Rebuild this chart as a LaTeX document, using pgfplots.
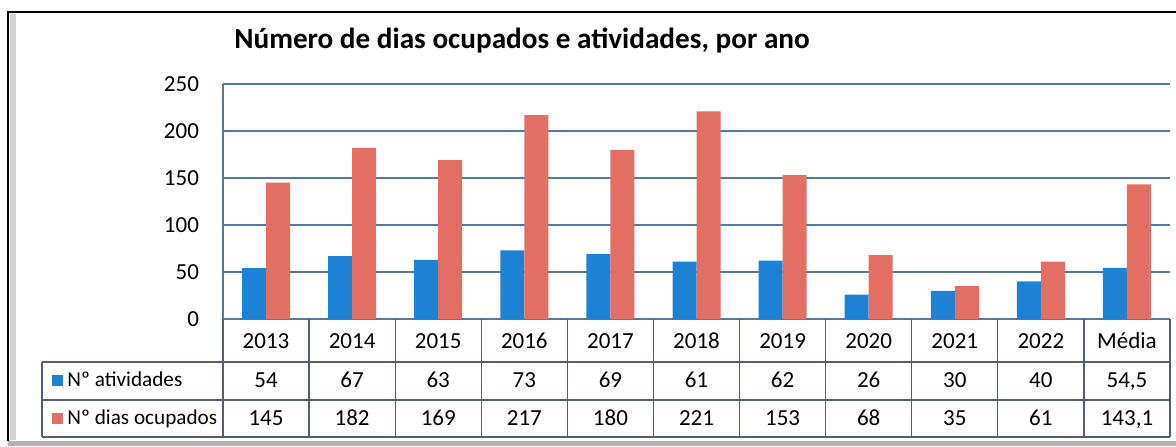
\documentclass[border=0pt]{standalone}
\usepackage{fontspec}
\setmainfont{Carlito}
\usepackage{pgfplots}
\usepackage{pgfplotstable}
\pgfplotsset{compat=1.18}
\definecolor{cblue}{RGB}{30,130,212}
\definecolor{cred}{RGB}{226,110,100}
\definecolor{gridc}{RGB}{85,120,160}
\definecolor{tabc}{RGB}{80,95,120}
\pgfplotstableread{
x act dias
0 54 145
1 67 182
2 63 169
3 73 217
4 69 180
5 61 221
6 62 153
7 26 68
8 30 35
9 40 61
10 54.5 143.1
}\data
\begin{document}
\begin{tikzpicture}
\useasboundingbox (0,0) rectangle (588pt,223pt);
\begin{axis}[at={(111.5pt,63.5pt)}, anchor=south west, scale only axis,
  width=473.5pt, height=117.5pt,
  xmin=-0.5, xmax=10.5, ymin=0, ymax=250, ytick={0,50,...,250},
  ymajorgrids, grid style={gridc, line width=0.6pt},
  axis x line*=bottom, axis y line*=left,
  axis line style={gridc, line width=0.6pt, -},
  xtick=\empty, major tick length=0pt,
  ybar=0pt, bar width=12pt,
  yticklabel style={font=\fontsize{11.5}{13}\selectfont, xshift=-8.5pt},
  /pgf/number format/assume math mode=true, clip=false]
\addplot[fill=cblue, draw=none] table[x=x,y=act]{\data};
\addplot[fill=cred, draw=none] table[x=x,y=dias]{\data};
\end{axis}
\node[anchor=base, font=\fontsize{14.6}{16}\selectfont\bfseries] at (261pt,199pt) {Número de dias ocupados e atividades, por ano};
\begin{scope}[x=0.5pt,y=-0.5pt,yshift=223pt]
  % frame
  \fill[gray!35] (10,14) rectangle (16,440);
  \fill[gray!60] (8,441) rectangle (1176,446);
  \draw[black, line width=1.4pt] (8,441) -- (8,12) -- (1176,12);
  % table
  \draw[tabc, line width=0.6pt] (42,362) -- (1170,362);
  \draw[tabc, line width=0.6pt] (42,400) -- (1170,400);
  \draw[tabc, line width=0.6pt] (42,437) -- (1170,437);
  \draw[tabc, line width=0.6pt] (42,362) -- (42,437);
  \foreach \i in {0,...,11} {
    \draw[tabc, line width=0.6pt] ({223+86.09*\i},319) -- ({223+86.09*\i},437);
  }
  \foreach \t [count=\i from 0] in {2013,2014,2015,2016,2017,2018,2019,2020,2021,2022,Média} {
    \node[anchor=base, font=\fontsize{11.5}{13}\selectfont] at ({223+86.09*\i+43.05},348) {\t};
  }
  \foreach \t [count=\i from 0] in {54,67,63,73,69,61,62,26,30,40,{54,5}} {
    \node[anchor=base, font=\fontsize{11.5}{13}\selectfont] at ({223+86.09*\i+43.05},387) {\t};
  }
  \foreach \t [count=\i from 0] in {145,182,169,217,180,221,153,68,35,61,{143,1}} {
    \node[anchor=base, font=\fontsize{11.5}{13}\selectfont] at ({223+86.09*\i+43.05},425) {\t};
  }
  \fill[cblue] (52,375) rectangle (63,386);
  \fill[cred] (52,413) rectangle (63,424);
  \node[anchor=base west, inner sep=0pt, font=\fontsize{10.6}{13}\selectfont] at (67,386) {Nº atividades};
  \node[anchor=base west, inner sep=0pt, font=\fontsize{10.6}{13}\selectfont] at (67,424) {Nº dias ocupados};
\end{scope}
\end{tikzpicture}
\end{document}
